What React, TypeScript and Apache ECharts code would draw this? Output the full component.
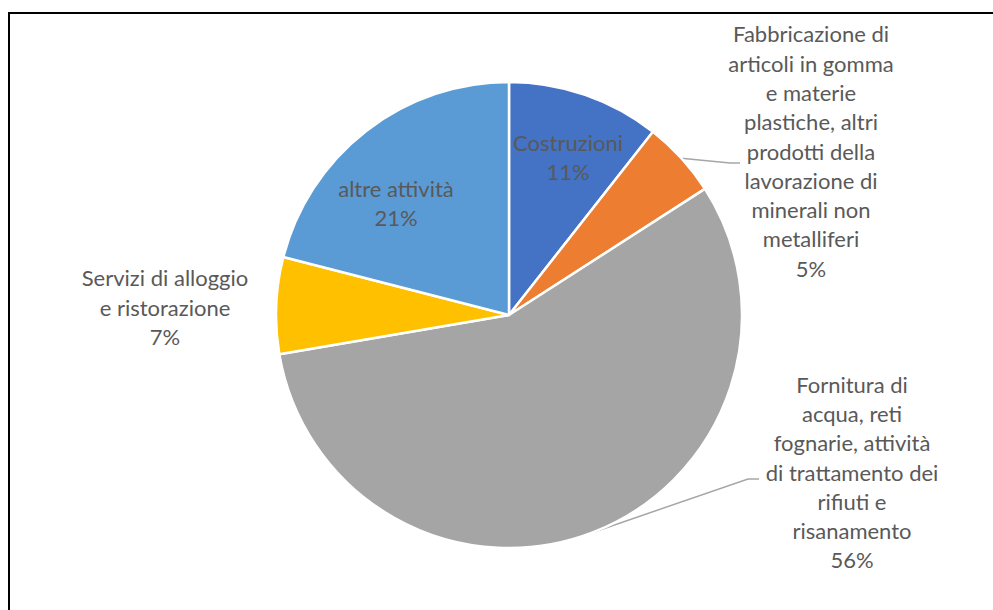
import React, { useEffect, useRef } from 'react';
import * as echarts from 'echarts';

// ---- Data ----
const CATEGORIES = [
  'Costruzioni',
  'Fabbricazione di articoli in gomma e materie plastiche, altri prodotti della lavorazione di minerali non metalliferi',
  'Fornitura di acqua, reti fognarie, attività di trattamento dei rifiuti e risanamento',
  'Servizi di alloggio e ristorazione',
  'altre attività',
];
const VALUES = [10.6, 5.3, 56.4, 6.7, 21.0];
const LABEL_LINES = [
  ['Costruzioni'],
  ['Fabbricazione di', 'articoli in gomma', 'e materie', 'plastiche, altri', 'prodotti della', 'lavorazione di', 'minerali non', 'metalliferi'],
  ['Fornitura di', 'acqua, reti', 'fognarie, attività', 'di trattamento dei', 'rifiuti e', 'risanamento'],
  ['Servizi di alloggio', 'e ristorazione'],
  ['altre attività'],
];

// ---- Styles / layout ----
const COLORS = ['#4472C4', '#ED7D31', '#A5A5A5', '#FFC000', '#5B9BD5'];
const PIE_CENTER = [509, 315];
const PIE_RADIUS = 233;
const LABEL_ANCHORS = [
  [568, 157],
  [811, 151],
  [852, 472],
  [165, 307],
  [396, 203],
];
const LEADER_ELBOWS: (number[][] | null)[] = [
  null,
  [[730, 163], [740, 163]],
  [[748, 479], [759, 479]],
  null,
  null,
];
const TEXT_COLOR = '#595959';
const FONT = 'Lato, "Open Sans", sans-serif';

export default function App() {
  const ref = useRef<HTMLDivElement>(null);
  useEffect(() => {
    if (!ref.current) return;
    const chart = echarts.init(ref.current, undefined, { renderer: 'svg' });
    const total = VALUES.reduce((a, b) => a + b, 0);
    const startPoint = (i: number) => {
      let before = 0;
      for (let k = 0; k < i; k++) before += VALUES[k];
      const mid = ((before + VALUES[i] / 2) / total) * Math.PI * 2;
      return [PIE_CENTER[0] + PIE_RADIUS * Math.sin(mid), PIE_CENTER[1] - PIE_RADIUS * Math.cos(mid)];
    };
    chart.setOption({
      animation: false,
      backgroundColor: '#ffffff',
      graphic: [
        { type: 'line', shape: { x1: 8, y1: 13, x2: 993, y2: 13 }, style: { stroke: '#000', lineWidth: 2 }, z: 10 },
        { type: 'line', shape: { x1: 9, y1: 12, x2: 9, y2: 610 }, style: { stroke: '#000', lineWidth: 2 }, z: 10 },
      ],
      series: [
        {
          type: 'pie',
          center: PIE_CENTER,
          radius: PIE_RADIUS,
          startAngle: 90,
          clockwise: true,
          avoidLabelOverlap: false,
          itemStyle: { borderColor: '#ffffff', borderWidth: 2.5 },
          label: {
            show: true,
            position: 'outside',
            color: TEXT_COLOR,
            fontFamily: FONT,
            fontSize: 22,
            lineHeight: 29.3,
            formatter: (p: any) => LABEL_LINES[p.dataIndex].join('\n') + '\n' + Math.round(p.percent) + '%',
          },
          labelLine: {
            show: true,
            lineStyle: { color: '#A6A6A6', width: 1.5 },
          },
          labelLayout: (params: any) => {
            const i = params.dataIndex;
            const out: any = {
              x: LABEL_ANCHORS[i][0],
              y: LABEL_ANCHORS[i][1],
              align: 'center',
              verticalAlign: 'middle',
            };
            const elbow = LEADER_ELBOWS[i];
            if (elbow) {
              const start = params.labelLinePoints && params.labelLinePoints[0]
                ? params.labelLinePoints[0]
                : startPoint(i);
              out.labelLinePoints = [start, ...elbow];
            }
            return out;
          },
          data: CATEGORIES.map((name, i) => ({
            name,
            value: VALUES[i],
            itemStyle: { color: COLORS[i] },
            labelLine: { show: LEADER_ELBOWS[i] != null },
          })),
        },
      ],
    });
    return () => chart.dispose();
  }, []);
  return (
    <div
      ref={ref}
      style={{ position: 'absolute', left: 0, top: 0, width: 993, height: 610, background: '#fff' }}
    />
  );
}
